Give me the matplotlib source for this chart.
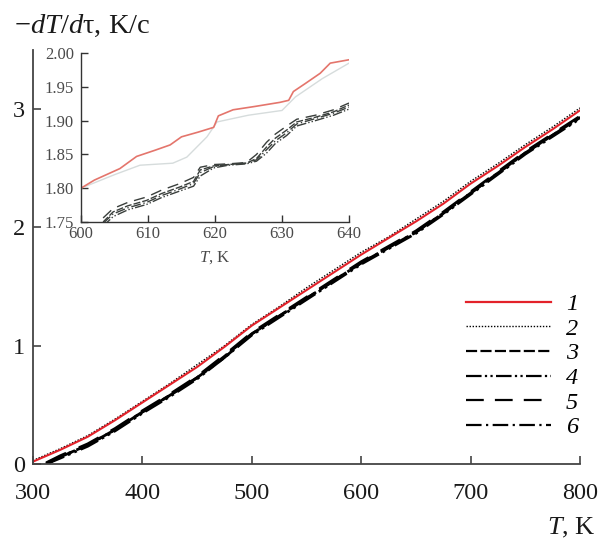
import matplotlib
matplotlib.use("Agg")
import matplotlib.pyplot as plt
from matplotlib.lines import Line2D

plt.rcParams['font.family'] = ['Liberation Serif', 'DejaVu Serif']
plt.rcParams['mathtext.fontset'] = 'custom'
plt.rcParams['mathtext.rm'] = 'Liberation Serif'
plt.rcParams['mathtext.it'] = 'Liberation Serif:italic'

# cooling rate -dT/dtau (K/s) vs temperature T (K)
T_red = [300, 325, 350, 375, 400, 425, 450, 475, 500, 525, 550, 575,
         600, 625, 650, 675, 700, 725, 750, 775, 800]
rate_1 = [0.02, 0.12, 0.23, 0.37, 0.52, 0.67, 0.82, 0.99, 1.17, 1.32, 1.47, 1.62,
          1.77, 1.91, 2.05, 2.20, 2.37, 2.52, 2.68, 2.83, 2.99]
rate_2 = [0.03, 0.13, 0.24, 0.38, 0.53, 0.68, 0.84, 1.00, 1.18, 1.33, 1.49, 1.64,
          1.79, 1.92, 2.07, 2.22, 2.39, 2.54, 2.70, 2.85, 3.01]

T_blk = [312, 325, 350, 375, 400, 425, 450, 475, 500, 525, 550, 575,
         600, 625, 650, 675, 700, 725, 750, 775, 800]
rate_3 = [0.00, 0.06, 0.16, 0.29, 0.44, 0.58, 0.73, 0.91, 1.10, 1.25, 1.40, 1.55,
          1.70, 1.83, 1.96, 2.12, 2.29, 2.46, 2.63, 2.78, 2.93]
rate_4 = [0.00, 0.05, 0.15, 0.28, 0.43, 0.57, 0.72, 0.90, 1.09, 1.24, 1.39, 1.54,
          1.69, 1.82, 1.95, 2.11, 2.28, 2.45, 2.62, 2.77, 2.92]
rate_5 = [0.01, 0.07, 0.17, 0.30, 0.45, 0.59, 0.74, 0.92, 1.11, 1.26, 1.41, 1.56,
          1.71, 1.84, 1.97, 2.13, 2.30, 2.47, 2.64, 2.79, 2.94]
rate_6 = [0.00, 0.06, 0.16, 0.29, 0.44, 0.58, 0.73, 0.90, 1.10, 1.25, 1.40, 1.55,
          1.70, 1.83, 1.96, 2.12, 2.29, 2.46, 2.63, 2.78, 2.93]

# zoomed region 600-640 K
Tz_1 = [600, 602, 605.8, 608.3, 611, 613.3, 615, 617.5, 619.8, 620.5, 622.7, 626,
        629.7, 631, 631.7, 633.5, 635.7, 637.2, 640]
zoom_1 = [1.800, 1.812, 1.829, 1.847, 1.856, 1.864, 1.876, 1.883, 1.890, 1.907, 1.916, 1.921,
          1.927, 1.930, 1.943, 1.955, 1.970, 1.985, 1.990]
Tz_2 = [600, 605, 608.8, 613.7, 615.8, 618.8, 620.3, 625, 630, 632, 636, 640]
zoom_2 = [1.800, 1.820, 1.834, 1.837, 1.846, 1.876, 1.898, 1.908, 1.915, 1.935, 1.962, 1.985]

Tz_b = [603.3, 604.8, 607, 609.8, 612, 614.8, 616.8, 617.8, 619.8, 622, 624.7, 626.2,
        627.7, 629, 630.7, 632.2, 635, 637.7, 640]
zoom_3 = [1.750, 1.765, 1.774, 1.782, 1.792, 1.802, 1.810, 1.827, 1.833, 1.835, 1.837, 1.844,
          1.861, 1.874, 1.886, 1.898, 1.905, 1.913, 1.923]
zoom_4 = [1.744, 1.758, 1.768, 1.776, 1.786, 1.796, 1.803, 1.818, 1.830, 1.834, 1.836, 1.840,
          1.852, 1.866, 1.878, 1.892, 1.900, 1.908, 1.917]
zoom_5 = [1.756, 1.770, 1.779, 1.787, 1.797, 1.807, 1.816, 1.831, 1.835, 1.836, 1.838, 1.850,
          1.868, 1.880, 1.892, 1.902, 1.908, 1.916, 1.926]
zoom_6 = [1.748, 1.762, 1.771, 1.779, 1.789, 1.799, 1.807, 1.823, 1.832, 1.835, 1.837, 1.842,
          1.857, 1.870, 1.882, 1.895, 1.903, 1.911, 1.920]

legend_labels = ['1', '2', '3', '4', '5', '6']

red = '#e3222a'
spine_col = '#444444'
styles = {
    '2': (0, (1, 1.2)),
    '3': (0, (5, 1.5)),
    '4': (0, (7, 1.5, 1, 1.5, 1, 1.5)),
    '5': (0, (8, 5)),
    '6': (0, (7, 2, 1, 2)),
}

fig = plt.figure(figsize=(5.98, 5.40), dpi=100)
ax = fig.add_axes([33 / 598, 76 / 540, 547 / 598, 414 / 540])

ax.plot(T_blk, rate_3, color='black', lw=2.0, ls=styles['3'])
ax.plot(T_blk, rate_4, color='black', lw=2.0, ls=styles['4'])
ax.plot(T_blk, rate_5, color='black', lw=2.0, ls=styles['5'])
ax.plot(T_blk, rate_6, color='black', lw=2.0, ls=styles['6'])
ax.plot(T_red, rate_2, color='black', lw=1.0, ls=styles['2'])
ax.plot(T_red, rate_1, color=red, lw=1.5)

ax.set_xlim(300, 800)
ax.set_ylim(0, 3.5)
ax.set_xticks([300, 400, 500, 600, 700, 800])
ax.set_yticks([0, 1, 2, 3])
for s in ['top', 'right']:
    ax.spines[s].set_visible(False)
for s in ['left', 'bottom']:
    ax.spines[s].set_color(spine_col)
    ax.spines[s].set_linewidth(1.3)
ax.tick_params(direction='in', length=6, width=1.2, color=spine_col,
               labelsize=17.5, labelcolor='#1a1a1a')
ax.tick_params(axis='x', pad=14)
ax.tick_params(axis='y', pad=6)

fig.text(14 / 598, 1 - 33 / 540, r'$-dT/d$τ, K/c', fontsize=20.5, ha='left',
         va='baseline', color='#1a1a1a')
fig.text(596 / 598, 1 - 534 / 540, r'$T$, K', fontsize=19, ha='right',
         va='baseline', color='#1a1a1a')

handles = [
    Line2D([], [], color=red, lw=1.6),
    Line2D([], [], color='black', lw=1.0, ls=styles['2']),
    Line2D([], [], color='black', lw=1.6, ls=styles['3']),
    Line2D([], [], color='black', lw=1.6, ls=styles['4']),
    Line2D([], [], color='black', lw=1.6, ls=styles['5']),
    Line2D([], [], color='black', lw=1.6, ls=styles['6']),
]
leg = fig.legend(handles, legend_labels, loc='upper left',
                 bbox_to_anchor=(466 / 598, 1 - 293 / 540), frameon=False,
                 prop={'size': 17.5, 'style': 'italic'}, handlelength=3.5,
                 handletextpad=0.6, labelspacing=0.11, borderpad=0, borderaxespad=0)

# inset with the 600-640 K detail
ins = fig.add_axes([81 / 598, 318 / 540, 268 / 598, 169 / 540])
ins.plot(Tz_2, zoom_2, color='#d6dcdc', lw=1.0)
ins.plot(Tz_b, zoom_3, color='#3a3f3c', lw=1.0, ls=styles['3'])
ins.plot(Tz_b, zoom_4, color='#3a3f3c', lw=1.0, ls=styles['4'])
ins.plot(Tz_b, zoom_5, color='#3a3f3c', lw=1.0, ls=styles['5'])
ins.plot(Tz_b, zoom_6, color='#3a3f3c', lw=1.0, ls=styles['6'])
ins.plot(Tz_1, zoom_1, color='#e4756c', lw=1.2)
ins.set_xlim(600, 640)
ins.set_ylim(1.75, 2.00)
ins.set_xticks([600, 610, 620, 630, 640])
ins.set_yticks([1.75, 1.80, 1.85, 1.90, 1.95, 2.00])
ins.set_yticklabels(['1.75', '1.80', '1.85', '1.90', '1.95', '2.00'])
for s in ['top', 'right']:
    ins.spines[s].set_visible(False)
for s in ['left', 'bottom']:
    ins.spines[s].set_color('#333333')
    ins.spines[s].set_linewidth(1.0)
ins.tick_params(direction='in', length=5, width=1.0, color='#333333',
                labelsize=12, labelcolor='#4a4a4a')
ins.tick_params(axis='x', pad=3)
ins.tick_params(axis='y', pad=5)
ins.set_xlabel(r'$T$, K', fontsize=12, color='#4a4a4a', labelpad=5)

fig.savefig('out.png', dpi=100)
